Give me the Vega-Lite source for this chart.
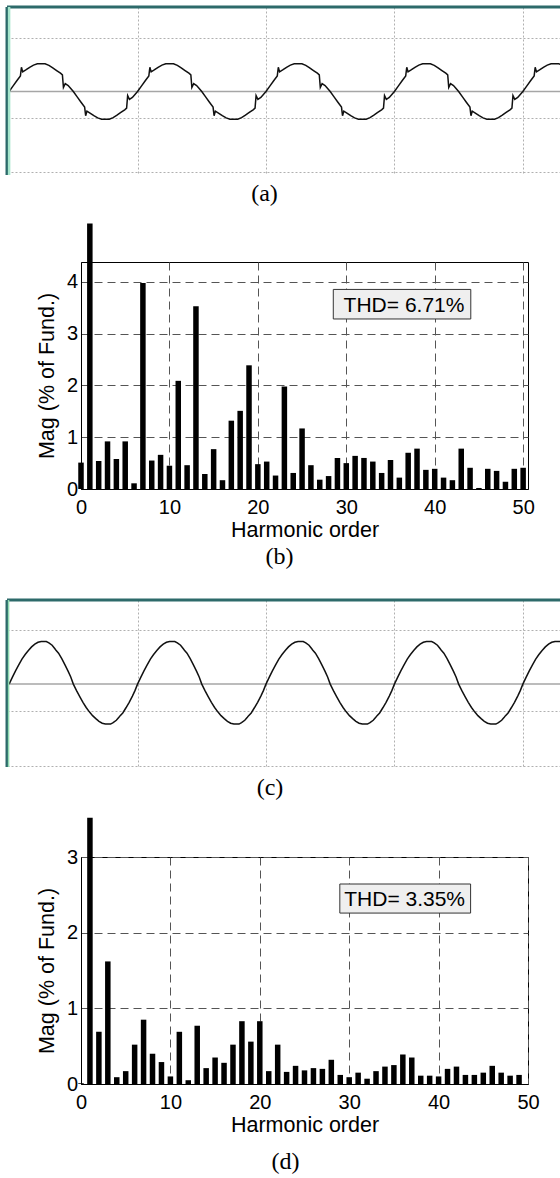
{
 "$schema": "https://vega.github.io/schema/vega-lite/v6.json",
 "padding": {"left": 5, "top": 5, "right": 0, "bottom": 0},
 "background": "white",
 "spacing": 16,
 "align": "none",
 "config": {
  "view": {"stroke": null},
  "font": "Liberation Sans",
  "axis": {"labelFont": "Liberation Sans", "titleFont": "Liberation Sans", "labelColor": "black", "titleColor": "black", "domainColor": "black", "titleFontWeight": "normal", "labelFontSize": 20, "titleFontSize": 21.5},
  "title": {"font": "Liberation Serif", "fontSize": 24, "fontWeight": "normal", "color": "black", "orient": "bottom", "anchor": "middle", "frame": "group"}
 },
 "datasets": {
  "waveA": [
   {"t":0,"v":0},{"t":0.03,"v":0.2},{"t":0.06,"v":0.4},{"t":0.088,"v":0.58},{"t":0.096,"v":0.9},{"t":0.106,"v":0.73},{"t":0.13,"v":0.8},{"t":0.16,"v":0.9},{"t":0.19,"v":0.98},{"t":0.22,"v":1.03},{"t":0.28,"v":1.03},{"t":0.31,"v":0.97},{"t":0.34,"v":0.88},{"t":0.37,"v":0.78},{"t":0.4,"v":0.68},{"t":0.415,"v":0.62},{"t":0.423,"v":0.15},{"t":0.437,"v":0.29},{"t":0.46,"v":0.22},{"t":0.48,"v":0.11},
   {"t":0.5,"v":0},{"t":0.53,"v":-0.2},{"t":0.56,"v":-0.4},{"t":0.588,"v":-0.58},{"t":0.596,"v":-0.9},{"t":0.606,"v":-0.73},{"t":0.63,"v":-0.8},{"t":0.66,"v":-0.9},{"t":0.69,"v":-0.98},{"t":0.72,"v":-1.03},{"t":0.78,"v":-1.03},{"t":0.81,"v":-0.97},{"t":0.84,"v":-0.88},{"t":0.87,"v":-0.78},{"t":0.9,"v":-0.68},{"t":0.915,"v":-0.62},{"t":0.923,"v":-0.15},{"t":0.937,"v":-0.29},{"t":0.96,"v":-0.22},{"t":0.98,"v":-0.11},
   {"t":1,"v":0},{"t":1.03,"v":0.2},{"t":1.06,"v":0.4},{"t":1.088,"v":0.58},{"t":1.096,"v":0.9},{"t":1.106,"v":0.73},{"t":1.13,"v":0.8},{"t":1.16,"v":0.9},{"t":1.19,"v":0.98},{"t":1.22,"v":1.03},{"t":1.28,"v":1.03},{"t":1.31,"v":0.97},{"t":1.34,"v":0.88},{"t":1.37,"v":0.78},{"t":1.4,"v":0.68},{"t":1.415,"v":0.62},{"t":1.423,"v":0.15},{"t":1.437,"v":0.29},{"t":1.46,"v":0.22},{"t":1.48,"v":0.11},
   {"t":1.5,"v":0},{"t":1.53,"v":-0.2},{"t":1.56,"v":-0.4},{"t":1.588,"v":-0.58},{"t":1.596,"v":-0.9},{"t":1.606,"v":-0.73},{"t":1.63,"v":-0.8},{"t":1.66,"v":-0.9},{"t":1.69,"v":-0.98},{"t":1.72,"v":-1.03},{"t":1.78,"v":-1.03},{"t":1.81,"v":-0.97},{"t":1.84,"v":-0.88},{"t":1.87,"v":-0.78},{"t":1.9,"v":-0.68},{"t":1.915,"v":-0.62},{"t":1.923,"v":-0.15},{"t":1.937,"v":-0.29},{"t":1.96,"v":-0.22},{"t":1.98,"v":-0.11},
   {"t":2,"v":0},{"t":2.03,"v":0.2},{"t":2.06,"v":0.4},{"t":2.088,"v":0.58},{"t":2.096,"v":0.9},{"t":2.106,"v":0.73},{"t":2.13,"v":0.8},{"t":2.16,"v":0.9},{"t":2.19,"v":0.98},{"t":2.22,"v":1.03},{"t":2.28,"v":1.03},{"t":2.31,"v":0.97},{"t":2.34,"v":0.88},{"t":2.37,"v":0.78},{"t":2.4,"v":0.68},{"t":2.415,"v":0.62},{"t":2.423,"v":0.15},{"t":2.437,"v":0.29},{"t":2.46,"v":0.22},{"t":2.48,"v":0.11},
   {"t":2.5,"v":0},{"t":2.53,"v":-0.2},{"t":2.56,"v":-0.4},{"t":2.588,"v":-0.58},{"t":2.596,"v":-0.9},{"t":2.606,"v":-0.73},{"t":2.63,"v":-0.8},{"t":2.66,"v":-0.9},{"t":2.69,"v":-0.98},{"t":2.72,"v":-1.03},{"t":2.78,"v":-1.03},{"t":2.81,"v":-0.97},{"t":2.84,"v":-0.88},{"t":2.87,"v":-0.78},{"t":2.9,"v":-0.68},{"t":2.915,"v":-0.62},{"t":2.923,"v":-0.15},{"t":2.937,"v":-0.29},{"t":2.96,"v":-0.22},{"t":2.98,"v":-0.11},
   {"t":3,"v":0},{"t":3.03,"v":0.2},{"t":3.06,"v":0.4},{"t":3.088,"v":0.58},{"t":3.096,"v":0.9},{"t":3.106,"v":0.73},{"t":3.13,"v":0.8},{"t":3.16,"v":0.9},{"t":3.19,"v":0.98},{"t":3.22,"v":1.03},{"t":3.28,"v":1.03},{"t":3.31,"v":0.97},{"t":3.34,"v":0.88},{"t":3.37,"v":0.78},{"t":3.4,"v":0.68},{"t":3.415,"v":0.62},{"t":3.423,"v":0.15},{"t":3.437,"v":0.29},{"t":3.46,"v":0.22},{"t":3.48,"v":0.11},
   {"t":3.5,"v":0},{"t":3.53,"v":-0.2},{"t":3.56,"v":-0.4},{"t":3.588,"v":-0.58},{"t":3.596,"v":-0.9},{"t":3.606,"v":-0.73},{"t":3.63,"v":-0.8},{"t":3.66,"v":-0.9},{"t":3.69,"v":-0.98},{"t":3.72,"v":-1.03},{"t":3.78,"v":-1.03},{"t":3.81,"v":-0.97},{"t":3.84,"v":-0.88},{"t":3.87,"v":-0.78},{"t":3.9,"v":-0.68},{"t":3.915,"v":-0.62},{"t":3.923,"v":-0.15},{"t":3.937,"v":-0.29},{"t":3.96,"v":-0.22},{"t":3.98,"v":-0.11},
   {"t":4,"v":0},{"t":4.03,"v":0.2},{"t":4.06,"v":0.4},{"t":4.088,"v":0.58},{"t":4.096,"v":0.9},{"t":4.106,"v":0.73},{"t":4.13,"v":0.8},{"t":4.16,"v":0.9},{"t":4.19,"v":0.98},{"t":4.22,"v":1.03},{"t":4.28,"v":1.03},{"t":4.296,"v":1.0}
  ],
  "waveC": [
   {"t":0,"v":0},{"t":0.025,"v":0.25},{"t":0.05,"v":0.49},{"t":0.075,"v":0.71},{"t":0.1,"v":0.92},{"t":0.125,"v":1.09},{"t":0.15,"v":1.24},{"t":0.175,"v":1.37},{"t":0.2,"v":1.47},{"t":0.225,"v":1.54},{"t":0.25,"v":1.57},{"t":0.29,"v":1.57},{"t":0.31,"v":1.52},{"t":0.335,"v":1.43},{"t":0.355,"v":1.31},{"t":0.365,"v":1.25},{"t":0.385,"v":1.14},{"t":0.41,"v":0.94},{"t":0.435,"v":0.71},{"t":0.46,"v":0.47},{"t":0.48,"v":0.26},
   {"t":0.5,"v":0},{"t":0.525,"v":-0.24},{"t":0.55,"v":-0.46},{"t":0.575,"v":-0.67},{"t":0.6,"v":-0.86},{"t":0.625,"v":-1.02},{"t":0.65,"v":-1.16},{"t":0.675,"v":-1.27},{"t":0.7,"v":-1.37},{"t":0.725,"v":-1.44},{"t":0.75,"v":-1.47},{"t":0.79,"v":-1.47},{"t":0.81,"v":-1.42},{"t":0.835,"v":-1.33},{"t":0.855,"v":-1.22},{"t":0.865,"v":-1.16},{"t":0.885,"v":-1.06},{"t":0.91,"v":-0.87},{"t":0.935,"v":-0.67},{"t":0.96,"v":-0.44},{"t":0.98,"v":-0.24},
   {"t":1,"v":0},{"t":1.025,"v":0.25},{"t":1.05,"v":0.49},{"t":1.075,"v":0.71},{"t":1.1,"v":0.92},{"t":1.125,"v":1.09},{"t":1.15,"v":1.24},{"t":1.175,"v":1.37},{"t":1.2,"v":1.47},{"t":1.225,"v":1.54},{"t":1.25,"v":1.57},{"t":1.29,"v":1.57},{"t":1.31,"v":1.52},{"t":1.335,"v":1.43},{"t":1.355,"v":1.31},{"t":1.365,"v":1.25},{"t":1.385,"v":1.14},{"t":1.41,"v":0.94},{"t":1.435,"v":0.71},{"t":1.46,"v":0.47},{"t":1.48,"v":0.26},
   {"t":1.5,"v":0},{"t":1.525,"v":-0.24},{"t":1.55,"v":-0.46},{"t":1.575,"v":-0.67},{"t":1.6,"v":-0.86},{"t":1.625,"v":-1.02},{"t":1.65,"v":-1.16},{"t":1.675,"v":-1.27},{"t":1.7,"v":-1.37},{"t":1.725,"v":-1.44},{"t":1.75,"v":-1.47},{"t":1.79,"v":-1.47},{"t":1.81,"v":-1.42},{"t":1.835,"v":-1.33},{"t":1.855,"v":-1.22},{"t":1.865,"v":-1.16},{"t":1.885,"v":-1.06},{"t":1.91,"v":-0.87},{"t":1.935,"v":-0.67},{"t":1.96,"v":-0.44},{"t":1.98,"v":-0.24},
   {"t":2,"v":0},{"t":2.025,"v":0.25},{"t":2.05,"v":0.49},{"t":2.075,"v":0.71},{"t":2.1,"v":0.92},{"t":2.125,"v":1.09},{"t":2.15,"v":1.24},{"t":2.175,"v":1.37},{"t":2.2,"v":1.47},{"t":2.225,"v":1.54},{"t":2.25,"v":1.57},{"t":2.29,"v":1.57},{"t":2.31,"v":1.52},{"t":2.335,"v":1.43},{"t":2.355,"v":1.31},{"t":2.365,"v":1.25},{"t":2.385,"v":1.14},{"t":2.41,"v":0.94},{"t":2.435,"v":0.71},{"t":2.46,"v":0.47},{"t":2.48,"v":0.26},
   {"t":2.5,"v":0},{"t":2.525,"v":-0.24},{"t":2.55,"v":-0.46},{"t":2.575,"v":-0.67},{"t":2.6,"v":-0.86},{"t":2.625,"v":-1.02},{"t":2.65,"v":-1.16},{"t":2.675,"v":-1.27},{"t":2.7,"v":-1.37},{"t":2.725,"v":-1.44},{"t":2.75,"v":-1.47},{"t":2.79,"v":-1.47},{"t":2.81,"v":-1.42},{"t":2.835,"v":-1.33},{"t":2.855,"v":-1.22},{"t":2.865,"v":-1.16},{"t":2.885,"v":-1.06},{"t":2.91,"v":-0.87},{"t":2.935,"v":-0.67},{"t":2.96,"v":-0.44},{"t":2.98,"v":-0.24},
   {"t":3,"v":0},{"t":3.025,"v":0.25},{"t":3.05,"v":0.49},{"t":3.075,"v":0.71},{"t":3.1,"v":0.92},{"t":3.125,"v":1.09},{"t":3.15,"v":1.24},{"t":3.175,"v":1.37},{"t":3.2,"v":1.47},{"t":3.225,"v":1.54},{"t":3.25,"v":1.57},{"t":3.29,"v":1.57},{"t":3.31,"v":1.52},{"t":3.335,"v":1.43},{"t":3.355,"v":1.31},{"t":3.365,"v":1.25},{"t":3.385,"v":1.14},{"t":3.41,"v":0.94},{"t":3.435,"v":0.71},{"t":3.46,"v":0.47},{"t":3.48,"v":0.26},
   {"t":3.5,"v":0},{"t":3.525,"v":-0.24},{"t":3.55,"v":-0.46},{"t":3.575,"v":-0.67},{"t":3.6,"v":-0.86},{"t":3.625,"v":-1.02},{"t":3.65,"v":-1.16},{"t":3.675,"v":-1.27},{"t":3.7,"v":-1.37},{"t":3.725,"v":-1.44},{"t":3.75,"v":-1.47},{"t":3.79,"v":-1.47},{"t":3.81,"v":-1.42},{"t":3.835,"v":-1.33},{"t":3.855,"v":-1.22},{"t":3.865,"v":-1.16},{"t":3.885,"v":-1.06},{"t":3.91,"v":-0.87},{"t":3.935,"v":-0.67},{"t":3.96,"v":-0.44},{"t":3.98,"v":-0.24},
   {"t":4,"v":0},{"t":4.025,"v":0.25},{"t":4.05,"v":0.49},{"t":4.075,"v":0.71},{"t":4.1,"v":0.92},{"t":4.125,"v":1.09},{"t":4.15,"v":1.24},{"t":4.175,"v":1.37},{"t":4.2,"v":1.47},{"t":4.225,"v":1.54},{"t":4.25,"v":1.57},{"t":4.29,"v":1.57},{"t":4.296,"v":1.56}
  ],
  "specB": [
   {"h":0,"m":0.51},{"h":1,"m":5.13},{"h":2,"m":0.54},{"h":3,"m":0.92},{"h":4,"m":0.58},{"h":5,"m":0.92},{"h":6,"m":0.11},{"h":7,"m":3.98},{"h":8,"m":0.55},{"h":9,"m":0.66},{"h":10,"m":0.45},
   {"h":11,"m":2.09},{"h":12,"m":0.46},{"h":13,"m":3.53},{"h":14,"m":0.29},{"h":15,"m":0.77},{"h":16,"m":0.17},{"h":17,"m":1.32},{"h":18,"m":1.51},{"h":19,"m":2.39},{"h":20,"m":0.48},
   {"h":21,"m":0.53},{"h":22,"m":0.26},{"h":23,"m":1.98},{"h":24,"m":0.31},{"h":25,"m":1.17},{"h":26,"m":0.46},{"h":27,"m":0.18},{"h":28,"m":0.25},{"h":29,"m":0.6},{"h":30,"m":0.5},
   {"h":31,"m":0.64},{"h":32,"m":0.6},{"h":33,"m":0.53},{"h":34,"m":0.31},{"h":35,"m":0.56},{"h":36,"m":0.22},{"h":37,"m":0.7},{"h":38,"m":0.78},{"h":39,"m":0.37},{"h":40,"m":0.39},
   {"h":41,"m":0.22},{"h":42,"m":0.17},{"h":43,"m":0.78},{"h":44,"m":0.41},{"h":45,"m":0.02},{"h":46,"m":0.39},{"h":47,"m":0.35},{"h":48,"m":0.14},{"h":49,"m":0.39},{"h":50,"m":0.41}
  ],
  "specD": [
   {"h":0,"m":0.01},{"h":1,"m":3.52},{"h":2,"m":0.69},{"h":3,"m":1.62},{"h":4,"m":0.09},{"h":5,"m":0.17},{"h":6,"m":0.52},{"h":7,"m":0.85},{"h":8,"m":0.4},{"h":9,"m":0.29},{"h":10,"m":0.1},
   {"h":11,"m":0.69},{"h":12,"m":0.05},{"h":13,"m":0.77},{"h":14,"m":0.21},{"h":15,"m":0.35},{"h":16,"m":0.28},{"h":17,"m":0.52},{"h":18,"m":0.83},{"h":19,"m":0.56},{"h":20,"m":0.83},
   {"h":21,"m":0.17},{"h":22,"m":0.52},{"h":23,"m":0.16},{"h":24,"m":0.24},{"h":25,"m":0.18},{"h":26,"m":0.21},{"h":27,"m":0.2},{"h":28,"m":0.32},{"h":29,"m":0.12},{"h":30,"m":0.09},
   {"h":31,"m":0.15},{"h":32,"m":0.07},{"h":33,"m":0.17},{"h":34,"m":0.23},{"h":35,"m":0.25},{"h":36,"m":0.39},{"h":37,"m":0.35},{"h":38,"m":0.11},{"h":39,"m":0.11},{"h":40,"m":0.1},
   {"h":41,"m":0.2},{"h":42,"m":0.23},{"h":43,"m":0.12},{"h":44,"m":0.12},{"h":45,"m":0.15},{"h":46,"m":0.24},{"h":47,"m":0.15},{"h":48,"m":0.11},{"h":49,"m":0.12}
  ]
 },
 "vconcat": [
  {
   "width": 554, "height": 168,
   "title": {"text": "(a)", "offset": 5.5, "dx": -19.5},
   "layer": [
    {"data": {"values": [{}]}, "mark": {"type": "rule", "color": "#a6a6a6", "strokeWidth": 1.5}, "encoding": {"y": {"datum": 0}}},
    {"data": {"name": "waveA"}, "mark": {"type": "line", "color": "#111111", "strokeWidth": 1.5},
     "encoding": {
      "x": {"field": "t", "type": "quantitative", "scale": {"domain": [-0.0164, 4.297], "nice": false, "zero": false},
            "axis": {"values": [1, 2, 3, 4], "grid": true, "gridDash": [2, 2], "gridColor": "#b0b0b0", "labels": false, "ticks": false, "domain": false, "title": null}},
      "y": {"field": "v", "type": "quantitative", "scale": {"domain": [-3.104, 3.141], "nice": false, "zero": false},
            "axis": {"values": [-3, -2, -1, 1, 2, 3], "grid": true, "gridDash": [2, 2], "gridColor": "#b0b0b0", "labels": false, "ticks": false, "domain": false, "title": null}}
     }},
    {"data": {"values": [{}]}, "mark": {"type": "rule", "color": "#2d6a6a", "strokeWidth": 3}, "encoding": {"y": {"datum": 3.141}}},
    {"data": {"values": [{}]}, "mark": {"type": "rule", "color": "#2d6a6a", "strokeWidth": 3}, "encoding": {"x": {"datum": -0.0164}}},
    {"data": {"values": [{}]}, "mark": {"type": "rule", "color": "#a6e6cc", "strokeWidth": 2.5}, "encoding": {"x": {"datum": 0.0}}}
   ]
  },
  {
   "spacing": 0,
   "hconcat": [
    {"width": 29, "height": 319.5, "data": {"values": []}, "mark": "point"},
    {
     "width": 447, "height": 227,
     "view": {"stroke": "black", "strokeWidth": 1},
     "title": {"text": "(b)", "offset": 3.5, "dx": -25},
     "layer": [
      {"data": {"name": "specB"}, "mark": {"type": "bar", "color": "black", "width": 5.5},
       "encoding": {
        "x": {"field": "h", "type": "quantitative", "scale": {"domain": [0, 50.55], "nice": false, "zero": false, "padding": 0},
              "axis": {"values": [0, 10, 20, 30, 40, 50], "grid": true, "gridDash": [8, 5], "gridColor": "#555555", "ticks": false, "labelFlush": false, "labelPadding": 8.5, "title": "Harmonic order", "titlePadding": 2}},
        "y": {"field": "m", "type": "quantitative", "scale": {"domain": [0, 4.386], "nice": false, "zero": false},
              "axis": {"values": [0, 1, 2, 3, 4], "format": "d", "grid": true, "gridDash": [8, 5], "gridColor": "#555555", "ticks": false, "labelPadding": 3.5, "title": "Mag (% of Fund.)", "titlePadding": 7.7}}
       }},
      {"data": {"values": [{}]}, "mark": {"type": "rect", "fill": "#efefef", "stroke": "#333333", "strokeWidth": 1},
       "encoding": {"x": {"datum": 28.53}, "x2": {"datum": 44.08}, "y": {"datum": 3.285}, "y2": {"datum": 3.856}}},
      {"data": {"values": [{}]}, "mark": {"type": "text", "text": "THD= 6.71%", "font": "Liberation Sans", "fontSize": 21, "align": "center", "baseline": "alphabetic", "color": "black"},
       "encoding": {"x": {"datum": 36.53}, "y": {"datum": 3.426}}}
     ]
    }
   ]
  },
  {
   "width": 554, "height": 167,
   "title": {"text": "(c)", "offset": 7.6, "dx": -14},
   "layer": [
    {"data": {"values": [{}]}, "mark": {"type": "rule", "color": "#a6a6a6", "strokeWidth": 1.5}, "encoding": {"y": {"datum": 0}}},
    {"data": {"name": "waveC"}, "mark": {"type": "line", "color": "#111111", "strokeWidth": 1.5},
     "encoding": {
      "x": {"field": "t", "type": "quantitative", "scale": {"domain": [-0.0164, 4.297], "nice": false, "zero": false},
            "axis": {"values": [1, 2, 3, 4], "grid": true, "gridDash": [2, 2], "gridColor": "#b0b0b0", "labels": false, "ticks": false, "domain": false, "title": null}},
      "y": {"field": "v", "type": "quantitative", "scale": {"domain": [-3.05, 3.096], "nice": false, "zero": false},
            "axis": {"values": [-3, -2, -1, 1, 2, 3], "grid": true, "gridDash": [2, 2], "gridColor": "#b0b0b0", "labels": false, "ticks": false, "domain": false, "title": null}}
     }},
    {"data": {"values": [{}]}, "mark": {"type": "rule", "color": "#2d6a6a", "strokeWidth": 3}, "encoding": {"y": {"datum": 3.096}}},
    {"data": {"values": [{}]}, "mark": {"type": "rule", "color": "#2d6a6a", "strokeWidth": 3}, "encoding": {"x": {"datum": -0.0164}}},
    {"data": {"values": [{}]}, "mark": {"type": "rule", "color": "#8fd9b0", "strokeWidth": 1.5}, "encoding": {"x": {"datum": -0.004}}}
   ]
  },
  {
   "spacing": 0,
   "hconcat": [
    {"width": 29, "height": 10, "data": {"values": []}, "mark": "point"},
    {
     "width": 447, "height": 227,
     "view": {"stroke": "black", "strokeWidth": 1},
     "title": {"text": "(d)", "offset": 13.5, "dx": -19},
     "layer": [
      {"data": {"name": "specD"}, "mark": {"type": "bar", "color": "black", "width": 5.5},
       "encoding": {
        "x": {"field": "h", "type": "quantitative", "scale": {"domain": [0, 50], "nice": false, "zero": false, "padding": 0},
              "axis": {"values": [0, 10, 20, 30, 40, 50], "grid": true, "gridDash": [8, 5], "gridColor": "#555555", "ticks": false, "labelFlush": false, "labelPadding": 8.5, "title": "Harmonic order", "titlePadding": 2}},
        "y": {"field": "m", "type": "quantitative", "scale": {"domain": [0, 3], "nice": false, "zero": false},
              "axis": {"values": [0, 1, 2, 3], "format": "d", "grid": true, "gridDash": [8, 5], "gridColor": "#555555", "ticks": false, "labelPadding": 3.5, "title": "Mag (% of Fund.)", "titlePadding": 7.7}}
       }},
      {"data": {"values": [{}]}, "mark": {"type": "rect", "fill": "#efefef", "stroke": "#333333", "strokeWidth": 1},
       "encoding": {"x": {"datum": 28.95}, "x2": {"datum": 43.58}, "y": {"datum": 2.259}, "y2": {"datum": 2.643}}},
      {"data": {"values": [{}]}, "mark": {"type": "text", "text": "THD= 3.35%", "font": "Liberation Sans", "fontSize": 21, "align": "center", "baseline": "alphabetic", "color": "black"},
       "encoding": {"x": {"datum": 36.2}, "y": {"datum": 2.351}}}
     ]
    }
   ]
  }
 ]
}
